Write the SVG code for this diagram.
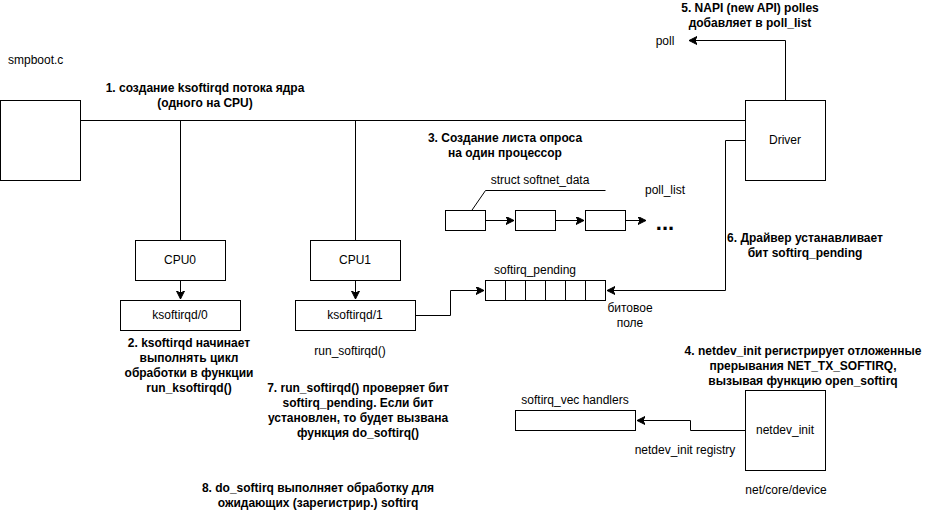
<svg xmlns="http://www.w3.org/2000/svg" width="931" height="511" viewBox="0 0 931 511">
<style>
.box{fill:#fff;stroke:#000;stroke-width:1}
.ln{fill:none;stroke:#000;stroke-width:1}
.t{font-family:"Liberation Sans",Arial,sans-serif;font-size:12px;fill:#000;text-anchor:middle;dominant-baseline:central}
.b{font-weight:bold}
.l{text-anchor:start}
</style>
<defs>
<marker id="arr" markerUnits="userSpaceOnUse" markerWidth="10" markerHeight="10" refX="8" refY="4" orient="auto">
<path d="M0,0 L8,4 L0,8 L2,4 z" fill="#000" stroke="#000" stroke-width="1"/>
</marker>
</defs>
<rect width="931" height="511" fill="#fff"/>
<g id="connectors">
<path class="ln" d="M80.5,120.5 H745.5"/>
<path class="ln" d="M180.5,120.5 V240.5"/>
<path class="ln" d="M355.5,120.5 V240.5"/>
<path class="ln" d="M180.5,280.5 V299" marker-end="url(#arr)"/>
<path class="ln" d="M355.5,280.5 V299" marker-end="url(#arr)"/>
<path class="ln" d="M785.5,100.5 V40.5 H689" marker-end="url(#arr)"/>
<path class="ln" d="M745.5,140.5 H725.5 V290.5 H607" marker-end="url(#arr)"/>
<path class="ln" d="M415.5,315.5 H450.5 V290.5 H484" marker-end="url(#arr)"/>
<path class="ln" d="M485.5,220.5 H514" marker-end="url(#arr)"/>
<path class="ln" d="M555.5,220.5 H584" marker-end="url(#arr)"/>
<path class="ln" d="M625.5,220.5 H646" marker-end="url(#arr)"/>
<path class="ln" d="M605.5,190.5 H485.5 L465.5,219.5"/>
<path class="ln" d="M745.5,430.5 H690.5 V420.5 H637" marker-end="url(#arr)"/>
</g>
<g id="smpboot"><rect class="box" x="0.5" y="100.5" width="80" height="80"/></g>
<g id="driver"><rect class="box" x="745.5" y="100.5" width="80" height="80"/><text class="t" x="785" y="140">Driver</text></g>
<g id="cpu0"><rect class="box" x="135.5" y="240.5" width="90" height="40"/><text class="t" x="180" y="260">CPU0</text></g>
<g id="cpu1"><rect class="box" x="310.5" y="240.5" width="90" height="40"/><text class="t" x="355" y="260">CPU1</text></g>
<g id="ksoftirqd0"><rect class="box" x="120.5" y="300.5" width="120" height="30"/><text class="t" x="180" y="315">ksoftirqd/0</text></g>
<g id="ksoftirqd1"><rect class="box" x="295.5" y="300.5" width="120" height="30"/><text class="t" x="355" y="315">ksoftirqd/1</text></g>
<g id="pollbox1"><rect class="box" x="445.5" y="210.5" width="40" height="20"/></g>
<g id="pollbox2"><rect class="box" x="515.5" y="210.5" width="40" height="20"/></g>
<g id="pollbox3"><rect class="box" x="585.5" y="210.5" width="40" height="20"/></g>
<g id="softirq_pending">
<rect class="box" x="485.5" y="280.5" width="120" height="20"/>
<path class="ln" d="M505.5,280.5 V300.5 M525.5,280.5 V300.5 M545.5,280.5 V300.5 M565.5,280.5 V300.5 M585.5,280.5 V300.5"/>
</g>
<g id="softirq_vec"><rect class="box" x="515.5" y="410.5" width="120" height="20"/></g>
<g id="netdev_init"><rect class="box" x="745.5" y="390.5" width="80" height="80"/><text class="t" x="785" y="430">netdev_init</text></g>
<g id="labels">
<text class="t l" x="8" y="60">smpboot.c</text>
<text class="t b" x="205" y="88">1. создание ksoftirqd потока ядра</text>
<text class="t b" x="205" y="103">(одного на CPU)</text>
<text class="t b" x="750" y="8">5. NAPI (new API) polles</text>
<text class="t b" x="750" y="23">добавляет в poll_list</text>
<text class="t" x="665" y="41">poll</text>
<text class="t b" x="505" y="138">3. Создание листа опроса</text>
<text class="t b" x="505" y="153">на один процессор</text>
<text class="t" x="540" y="180">struct softnet_data</text>
<text class="t" x="665" y="190">poll_list</text>
<text class="t b" x="665" y="222" style="font-size:22px">...</text>
<text class="t b" x="805" y="238">6. Драйвер устанавливает</text>
<text class="t b" x="805" y="253">бит softirq_pending</text>
<text class="t" x="535" y="270">softirq_pending</text>
<text class="t" x="630" y="308">битовое</text>
<text class="t" x="630" y="323">поле</text>
<text class="t b" x="189" y="343">2. ksoftirqd начинает</text>
<text class="t b" x="189" y="358">выполнять цикл</text>
<text class="t b" x="189" y="373">обработки в функции</text>
<text class="t b" x="189" y="388">run_ksoftirqd()</text>
<text class="t" x="350" y="351">run_softirqd()</text>
<text class="t b" x="358" y="388">7. run_softirqd() проверяет бит</text>
<text class="t b" x="358" y="403">softirq_pending. Если бит</text>
<text class="t b" x="358" y="418">установлен, то будет вызвана</text>
<text class="t b" x="358" y="433">функция do_softirq()</text>
<text class="t b" x="803" y="351">4. netdev_init регистрирует отложенные</text>
<text class="t b" x="803" y="366">прерывания NET_TX_SOFTIRQ,</text>
<text class="t b" x="803" y="381">вызывая функцию open_softirq</text>
<text class="t" x="575" y="400">softirq_vec handlers</text>
<text class="t" x="685" y="450">netdev_init registry</text>
<text class="t" x="786" y="490">net/core/device</text>
<text class="t b" x="318" y="488">8. do_softirq выполняет обработку для</text>
<text class="t b" x="318" y="503">ожидающих (зарегистрир.) softirq</text>
</g>
</svg>
